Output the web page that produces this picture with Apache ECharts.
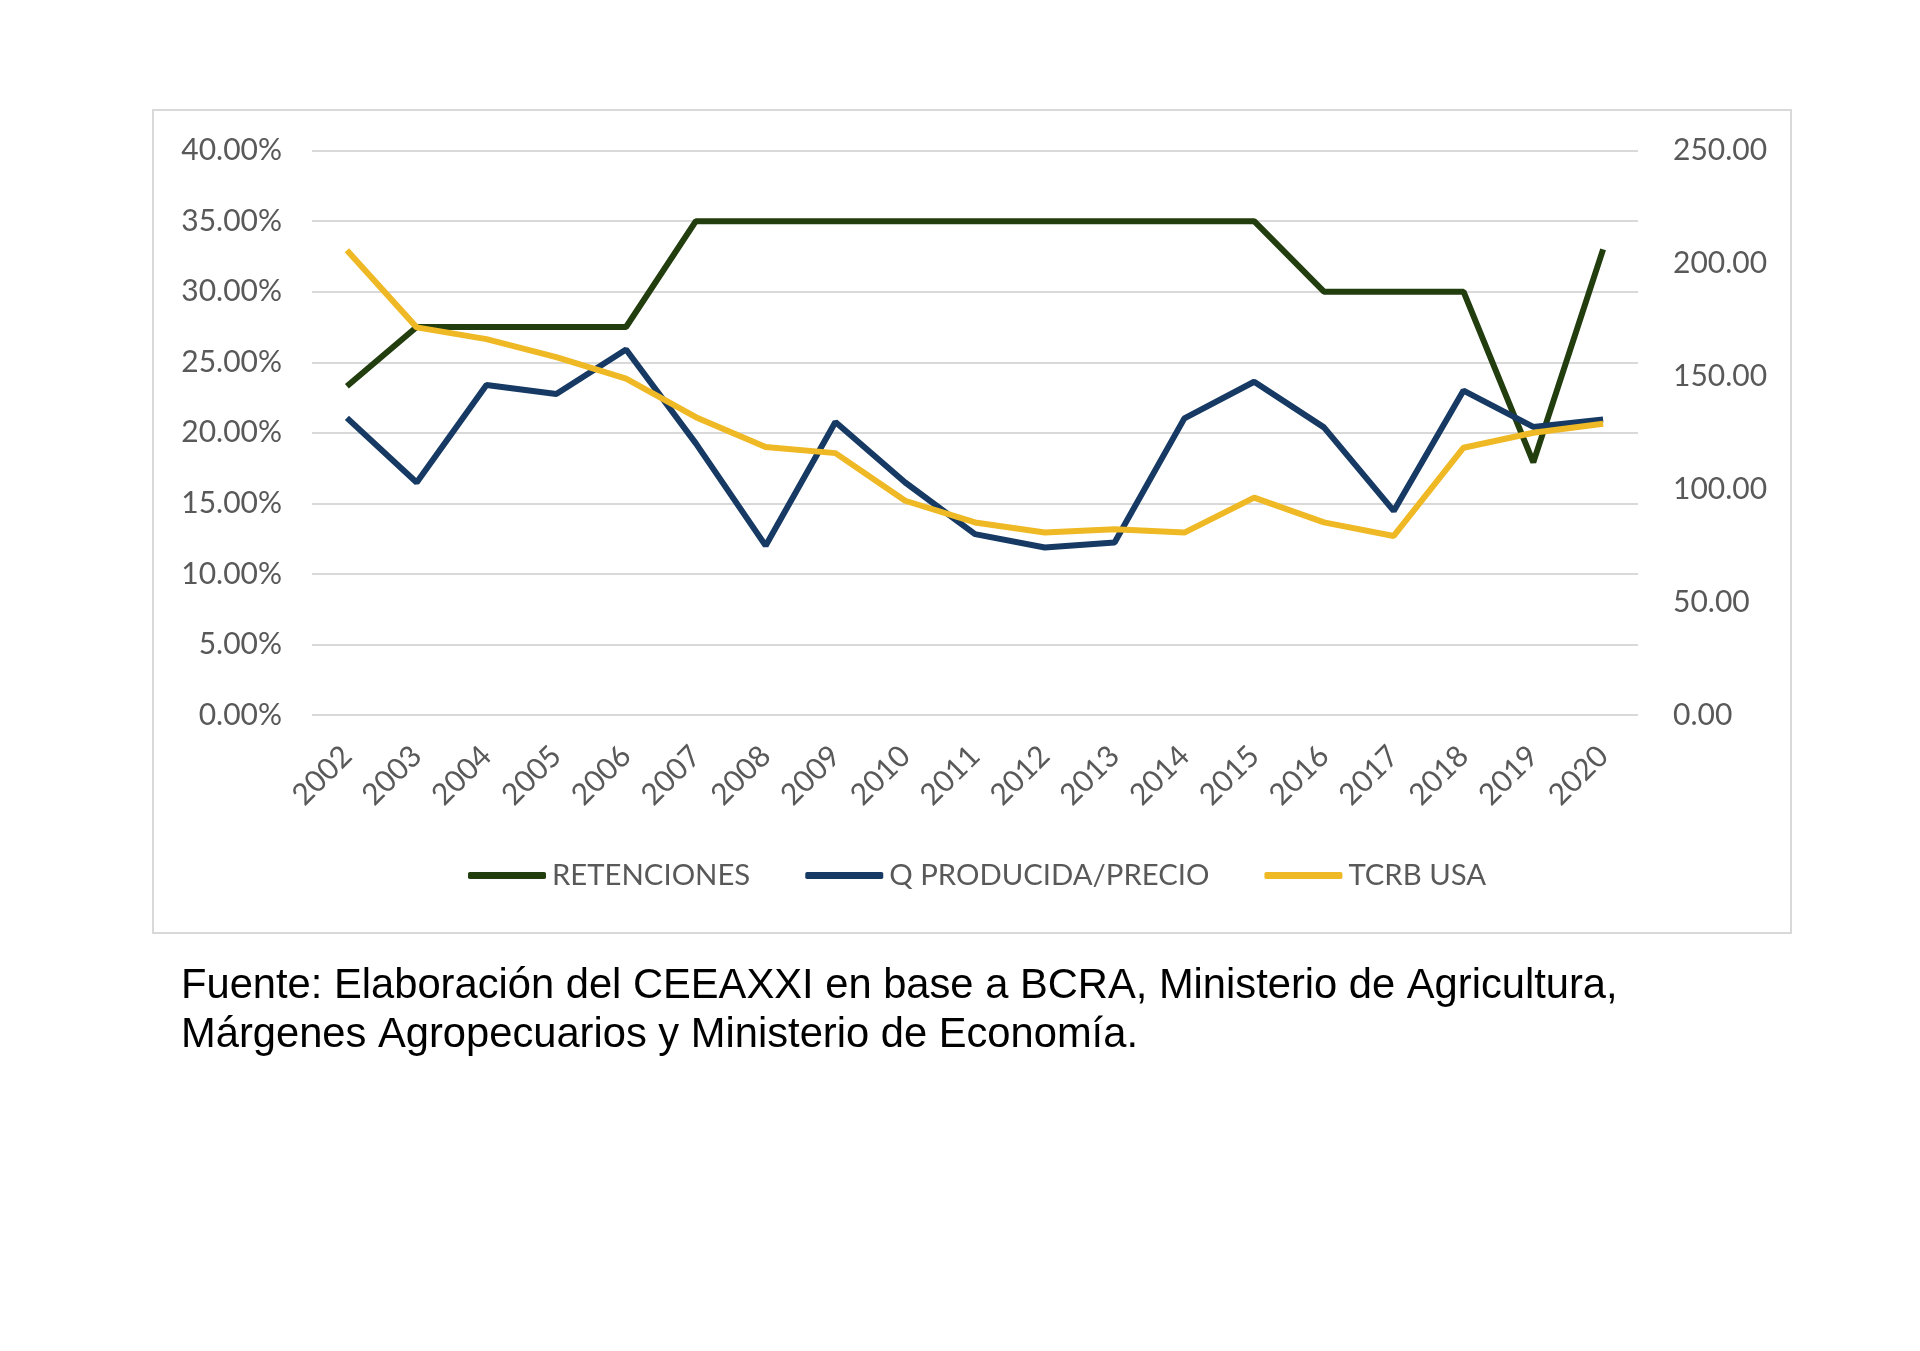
<!DOCTYPE html>
<html><head><meta charset="utf-8">
<script src="https://cdn.jsdelivr.net/npm/echarts@6/dist/echarts.min.js"></script>
<style>html,body{margin:0;padding:0;background:#fff}#c{width:1920px;height:1351px}</style>
</head><body><div id="c"></div>
<script>
const years = ['2002','2003','2004','2005','2006','2007','2008','2009','2010','2011','2012','2013','2014','2015','2016','2017','2018','2019','2020'];
const retenciones = [23.3,27.5,27.5,27.5,27.5,35,35,35,35,35,35,35,35,35,30,30,30,17.9,33.0];
const qProducidaPrecio = [131.6,103.0,146.2,142.2,161.9,120.3,75.0,129.8,103.0,80.1,74.2,76.4,131.4,147.6,127.4,90.4,143.7,127.6,130.9];
const tcrbUsa = [205.9,171.7,166.5,158.5,149.0,131.9,118.7,116.0,94.9,85.3,80.8,82.3,80.8,96.3,85.3,79.3,118.4,125.0,129.0];
const leftTicks = {min:0,max:40,interval:5};
const rightTicks = {min:0,max:250,interval:50};
const names = ['RETENCIONES','Q PRODUCIDA/PRECIO','TCRB USA'];
const colors = ['#223d0e','#163a63','#efb825'];

const chart = echarts.init(document.getElementById('c'));
const font = 'Lato, "Open Sans", sans-serif';
chart.setOption({
  animation:false,
  graphic:[
    {type:'rect',shape:{x:153,y:110,width:1638,height:823},style:{fill:'none',stroke:'#d9d9d9',lineWidth:2},z:-1},
    {type:'text',left:181,top:962,style:{text:'Fuente: Elaboración del CEEAXXI en base a BCRA, Ministerio de Agricultura,\nMárgenes Agropecuarios y Ministerio de Economía.',font:'41.7px "Liberation Sans", Arial, sans-serif',fill:'#000',lineHeight:49}}
  ],
  grid:{left:312,right:282,top:150.6,bottom:636},
  legend:{
    left:463,top:856,itemWidth:78,itemHeight:7,itemGap:55,
    icon:'roundRect',
    textStyle:{fontFamily:font,fontSize:29.3,color:'#595959',padding:[0,0,0,1]},
    data:names
  },
  xAxis:{type:'category',data:years,boundaryGap:true,
    axisLine:{show:false},axisTick:{show:false},
    axisLabel:{rotate:45,margin:36,fontFamily:font,fontSize:30,color:'#595959'}},
  yAxis:[
    {type:'value',min:leftTicks.min,max:leftTicks.max,interval:leftTicks.interval,
     axisLabel:{formatter:v=>v.toFixed(2)+'%',fontFamily:font,fontSize:30,color:'#595959',margin:30},
     splitLine:{lineStyle:{color:'#d9d9d9',width:2}},axisLine:{show:false},axisTick:{show:false}},
    {type:'value',min:rightTicks.min,max:rightTicks.max,interval:rightTicks.interval,
     axisLabel:{formatter:v=>v.toFixed(2),fontFamily:font,fontSize:30,color:'#595959',margin:35},
     splitLine:{show:false},axisLine:{show:false},axisTick:{show:false}}
  ],
  series:[
    {name:names[0],type:'line',yAxisIndex:0,data:retenciones,symbol:'none',lineStyle:{width:6,color:colors[0]},itemStyle:{color:colors[0]},z:3},
    {name:names[1],type:'line',yAxisIndex:1,data:qProducidaPrecio,symbol:'none',lineStyle:{width:6,color:colors[1]},itemStyle:{color:colors[1]},z:4},
    {name:names[2],type:'line',yAxisIndex:1,data:tcrbUsa,symbol:'none',lineStyle:{width:6,color:colors[2]},itemStyle:{color:colors[2]},z:5}
  ]
});
</script></body></html>
